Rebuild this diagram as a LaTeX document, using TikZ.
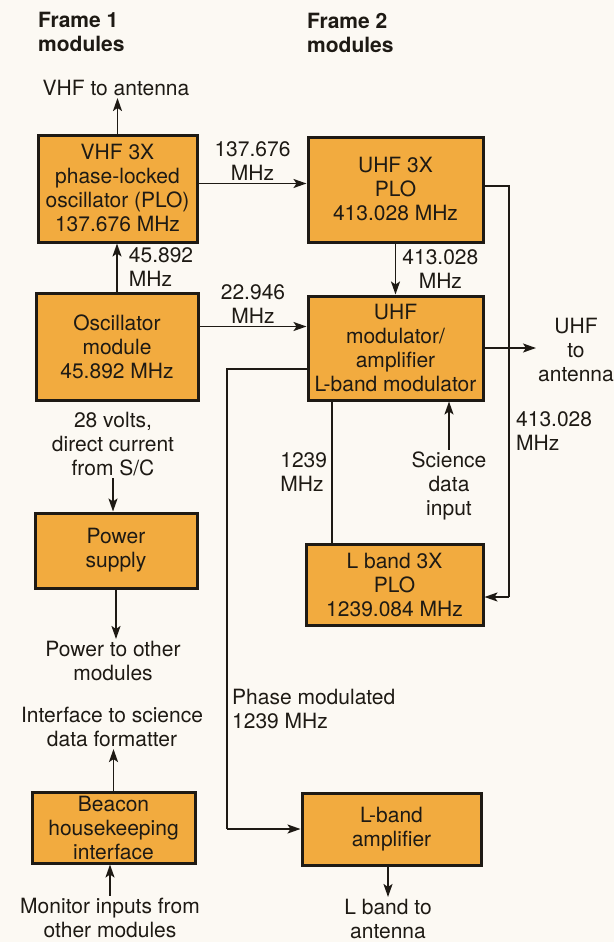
\documentclass[tikz,border=0pt]{standalone}
\usepackage{fontspec}
\setmainfont{TeX Gyre Heros}
\usetikzlibrary{arrows.meta, positioning, calc}
\definecolor{Amber}{HTML}{F2AB3F}
\definecolor{Ink}{HTML}{1E1A14}
\definecolor{Paper}{HTML}{FCF9F3}
\tikzset{
  modbox/.style={rectangle, draw=Ink, fill=Amber, line width=3pt,
                 minimum width=#1, inner sep=1pt,
                 font=\fontsize{21}{24}\selectfont, text=Ink, align=center},
  lbl/.style={inner sep=2pt, font=\fontsize{21}{24}\selectfont, text=Ink},
  head/.style={inner sep=0pt, font=\fontsize{21}{24}\selectfont\bfseries,
               text=Ink, align=left, anchor=west},
}

\begin{document}
\begin{tikzpicture}[x=1pt, y=-1pt,
        wire/.style={line width=1.9pt, color=Ink},
        arr/.style={wire, -{Stealth[length=13pt, width=9pt, inset=3pt]}}
      ]
        \fill[Paper] (0,0) rectangle (614,942);
        % frame headings
        \node[head] (fr1) at (38,32) {Frame 1\\modules};
        \node[head] (fr2) at (307,33) {Frame 2\\modules};
        % frame 1 modules
        \node[modbox=159pt, minimum height=107pt] (vhf) at (117.5,188.5)
          {VHF 3X\\phase-locked\\oscillator (PLO)\\137.676 MHz};
        \node[modbox=162pt, minimum height=107pt] (osc) at (117,346.5)
          {Oscillator\\module\\45.892 MHz};
        \node[modbox=162pt, minimum height=75pt] (pwr) at (116,550.5)
          {Power\\supply};
        \node[modbox=163pt, minimum height=71pt] (bcn) at (113.5,827.5)
          {Beacon\\housekeeping\\interface};
        % frame 2 modules
        \node[modbox=175pt, minimum height=105pt] (uhf) at (395.5,189.5)
          {UHF 3X\\PLO\\413.028 MHz};
        \node[modbox=175pt, minimum height=104pt] (mod) at (395.5,348)
          {UHF\\modulator/\\amplifier\\L-band modulator};
        \node[modbox=177pt, minimum height=81pt] (lplo) at (394.5,584.5)
          {L band 3X\\PLO\\1239.084 MHz};
        \node[modbox=179pt, minimum height=72pt] (lamp) at (391.5,829)
          {L-band\\amplifier};
        % free labels
        \node[lbl] (vhfout) at (116,88) {VHF to antenna};
        \node[lbl, align=center] (uhfout) at (576,350) {UHF\\to\\antenna};
        \node[lbl, align=center] (sci) at (449,486) {Science\\data\\input};
        \node[lbl, align=center] (volts) at (113,444) {28 volts,\\direct current\\from S/C};
        \node[lbl, align=center] (pwrout) at (113,661) {Power to other\\modules};
        \node[lbl, align=center] (iface) at (112,727) {Interface to science\\data formatter};
        \node[lbl, align=center] (mon) at (110,918) {Monitor inputs from\\other modules};
        \node[lbl, align=center] (lout) at (388,919) {L band to\\antenna};
        \node[lbl, align=left, anchor=west] (pmlbl) at (230,709) {Phase modulated\\1239 MHz};
        \node[lbl, align=left, anchor=west] (lplbl) at (514,431) {413.028\\MHz};
        % corners of the wires
        \coordinate (loopT) at (509,186);
        \coordinate (loopB) at (509,597);
        \coordinate (phT) at (227,369);
        \coordinate (phB) at (227,829);
        \coordinate (tap) at (332,470);
        % connectors
        \draw[arr] (vhf.north) -- (vhf.north |- vhfout.south);
        \draw[arr] (osc.north) -- (osc.north |- vhf.south)
          node[lbl, right, midway, align=left, xshift=9pt] {45.892\\MHz};
        \draw[arr] ([yshift=5pt]vhf.east) -- ([yshift=5pt]vhf.east -| uhf.west)
          node[lbl, above, midway, align=center] {137.676\\MHz};
        \draw[arr] ([yshift=20pt]osc.east) -- ([yshift=20pt]osc.east -| mod.west)
          node[lbl, above, midway, align=center] {22.946\\MHz};
        \draw[arr] (uhf.south) -- (mod.north)
          node[lbl, right, midway, align=center, xshift=4pt] {413.028\\MHz};
        \draw[arr] (mod.east) -- (mod.east -| uhfout.west);
        \draw[wire] (uhf.east |- loopT) -- (loopT) -- (loopB);
        \draw[arr] (loopB) -- (loopB -| lplo.east);
        \draw[wire] (tap |- mod.south) -- (tap |- lplo.north)
          node[lbl, left, midway, align=left, xshift=-2pt] {1239\\MHz};
        \draw[arr] (sci.north) -- (sci.north |- mod.south);
        \draw[wire] (mod.west |- phT) -- (phT) -- (phB);
        \draw[arr] (phB) -- (phB -| lamp.west);
        \draw[arr] (lout.north |- lamp.south) -- (lout.north);
        \draw[arr] (volts.south) -- (volts.south |- pwr.north);
        \draw[arr] (pwr.south) -- (pwr.south |- pwrout.north);
        \draw[arr] (bcn.north) -- (bcn.north |- iface.south);
        \draw[arr] (mon.north) -- (mon.north |- bcn.south);
      \end{tikzpicture}
\end{document}
